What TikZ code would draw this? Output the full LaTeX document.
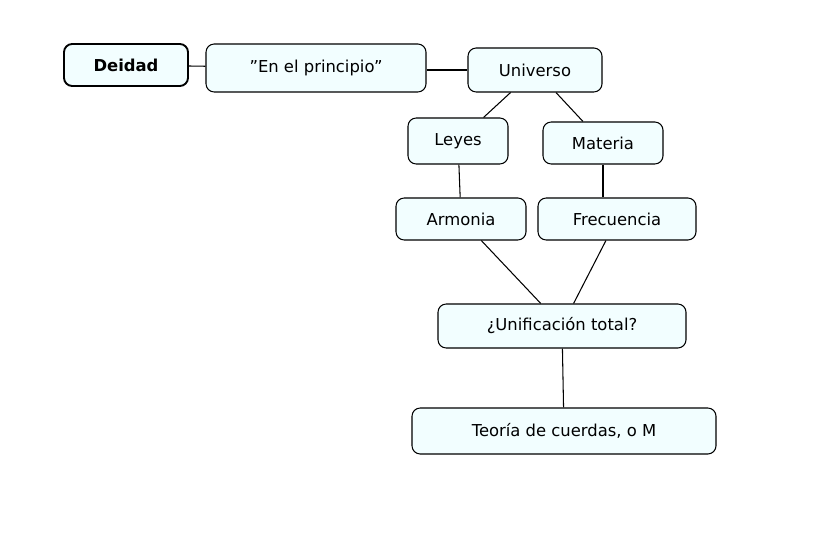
\documentclass[tikz,border=0pt]{standalone}
\usepackage{fontspec}
\setmainfont{DejaVu Sans}
\usepackage{tikz}

\begin{document}
\begin{tikzpicture}[x=0.03cm, y=-0.03cm, concept/.style = {draw, rounded corners=7pt, fill=blue!4!cyan!5, line width=0.9pt, inner sep=0pt, font=\fontsize{14}{16}\selectfont}]
	\useasboundingbox (0,0) rectangle (814,539);
	\node[concept, line width=1.6pt, minimum width=3.72cm, minimum height=1.26cm, font=\fontsize{14}{16}\selectfont\bfseries] (deidad) at (126,65) {Deidad};
	\node[concept, minimum width=6.6cm, minimum height=1.44cm] (principio) at (316,68) {"En el principio"};
	\node[concept, minimum width=4.02cm, minimum height=1.32cm] (universo) at (535,70) {Universo};
	\node[concept, minimum width=3.0cm, minimum height=1.38cm] (leyes) at (458,141) {Leyes};
	\node[concept, minimum width=3.6cm, minimum height=1.26cm] (materia) at (603,143) {Materia};
	\node[concept, minimum width=3.9cm, minimum height=1.26cm] (armonia) at (461,219) {Armonia};
	\node[concept, minimum width=4.74cm, minimum height=1.26cm] (frecuencia) at (617,219) {Frecuencia};
	\node[concept, minimum width=7.44cm, minimum height=1.32cm] (unificacion) at (562,326) {¿Unificación total?};
	\node[concept, minimum width=9.12cm, minimum height=1.38cm] (teoria) at (564,431) {Teoría de cuerdas, o M};
	% enlaces
	\draw[line width=0.9pt] (deidad) -- (principio);
	\draw[line width=0.9pt] (principio.east |- universo) -- (universo);
	\draw[line width=0.9pt] (universo) -- (leyes);
	\draw[line width=0.9pt] (universo) -- (materia);
	\draw[line width=0.9pt] (leyes) -- (armonia);
	\draw[line width=0.9pt] (materia) -- (materia |- frecuencia.north);
	\draw[line width=0.9pt] (armonia) -- (unificacion);
	\draw[line width=0.9pt] (frecuencia) -- (unificacion);
	\draw[line width=0.9pt] (unificacion) -- (teoria);
\end{tikzpicture}
\end{document}
